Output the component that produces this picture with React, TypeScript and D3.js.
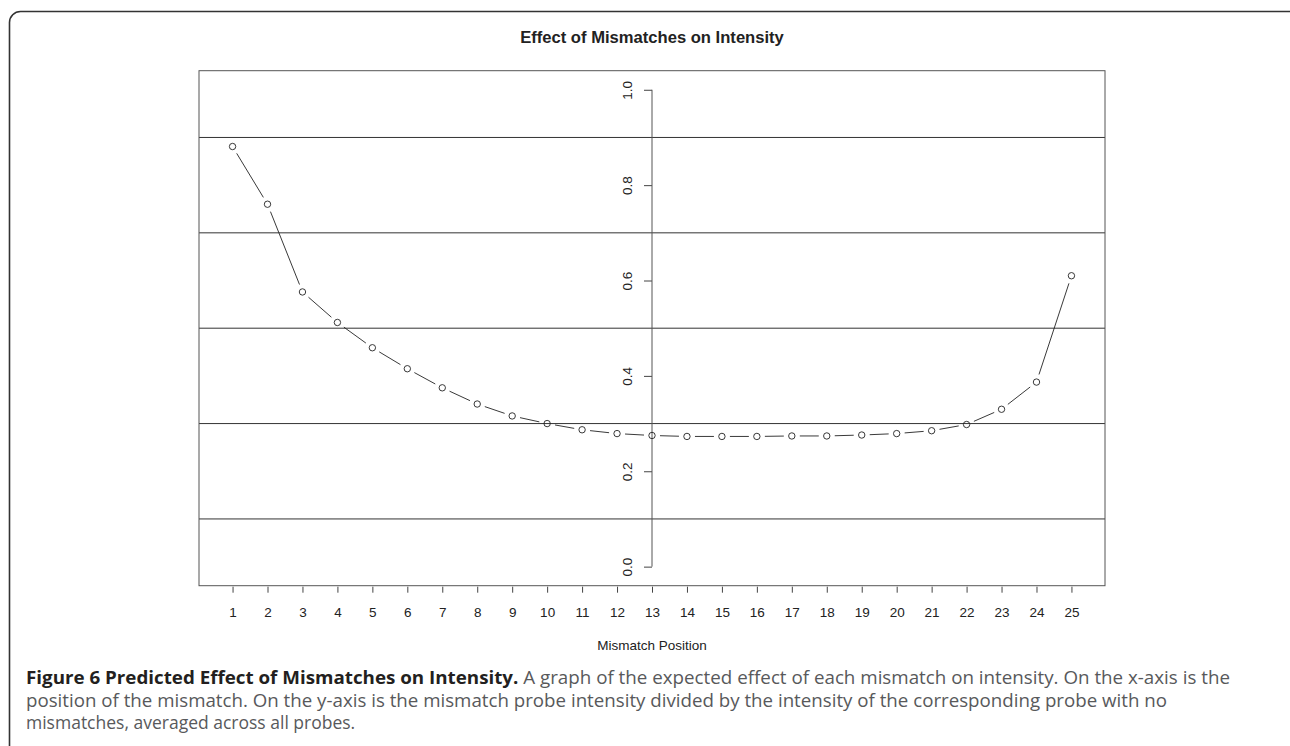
import React, { useEffect, useRef } from "react"
import * as d3 from "d3"

/** Mismatch positions along the probe and mean relative intensity */
const positions = [1, 2, 3, 4, 5, 6, 7, 8, 9, 10, 11, 12, 13, 14, 15, 16, 17, 18, 19, 20, 21, 22, 23, 24, 25]
const intensity = [
	0.881, 0.76, 0.576, 0.512, 0.459, 0.415, 0.375, 0.341, 0.316, 0.3, 0.287, 0.279, 0.275,
	0.273, 0.273, 0.273, 0.274, 0.274, 0.276, 0.279, 0.285, 0.298, 0.33, 0.387, 0.61,
]

/** Axis ticks and reference lines */
const yTickValues = [0, 0.2, 0.4, 0.6, 0.8, 1.0]
const gridValues = [0.1, 0.3, 0.5, 0.7, 0.9]

const title = "Effect of Mismatches on Intensity"
const xLabel = "Mismatch Position"
const captionBold = "Figure 6 Predicted Effect of Mismatches on Intensity."
const captionRest = " A graph of the expected effect of each mismatch on intensity. On the x-axis is the"
const captionLine2 =
	"position of the mismatch. On the y-axis is the mismatch probe intensity divided by the intensity of the corresponding probe with no"
const captionLine3 = "mismatches, averaged across all probes."

export default function App() {
	const width = 1290
	const height = 746

	/** plot region (R style box) */
	const left = 199
	const right = 1105
	const top = 70.7
	const bottom = 585.7
	const yAxisAt = 13

	const xScale = d3.scaleLinear().domain([0.04, 25.96]).range([left, right])
	const yScale = d3.scaleLinear().domain([-0.04, 1.04]).range([bottom, top])

	const axisFont = "'Liberation Sans', Arial, sans-serif"
	const ink = "#222"

	/** points in pixels */
	const pts = positions.map((p, i) => [xScale(p), yScale(intensity[i])])

	/** type="b" segments: gap around each point */
	const gap = 8
	const segments = []
	for (let i = 0; i < pts.length - 1; i++) {
		const [x1, y1] = pts[i]
		const [x2, y2] = pts[i + 1]
		const len = Math.hypot(x2 - x1, y2 - y1)
		if (len <= 2 * gap) continue
		const ux = (x2 - x1) / len
		const uy = (y2 - y1) / len
		segments.push([x1 + ux * gap, y1 + uy * gap, x2 - ux * gap, y2 - uy * gap])
	}

	const xAxisRef = useRef(null)
	useEffect(() => {
		const g = d3.select(xAxisRef.current)
		g.call(d3.axisBottom(xScale).tickValues(positions).tickSize(7).tickPadding(9).tickFormat(d3.format("d")))
		g.select(".domain").remove()
		g.selectAll(".tick line").attr("stroke", "#444").attr("y1", 1)
		g.selectAll(".tick text")
			.attr("fill", ink)
			.attr("font-family", axisFont)
			.attr("font-size", 13.5)
			.attr("dy", 0)
			.attr("y", 31.5)
	}, [])

	const yAxisRef = useRef(null)
	useEffect(() => {
		const g = d3.select(yAxisRef.current)
		g.call(d3.axisLeft(yScale).tickValues(yTickValues).tickSize(8).tickFormat(d3.format(".1f")))
		g.select(".domain").remove()
		g.selectAll(".tick line").attr("stroke", "#444")
		g.selectAll(".tick text")
			.attr("fill", ink)
			.attr("font-family", axisFont)
			.attr("font-size", 13.5)
			.attr("text-anchor", "middle")
			.attr("transform", "rotate(-90)")
			.attr("x", 0)
			.attr("y", -20)
			.attr("dy", 0)
	}, [])

	return (
		<svg width={width} height={height} style={{ position: "absolute", left: 0, top: 0, background: "#fff" }}>
			<rect x={9.5} y={11.5} width={1300} height={800} rx={11} fill="none" stroke="#333" strokeWidth={1.6} />

			<text x={652} y={42.5} textAnchor="middle" fontFamily={axisFont} fontWeight="bold" fontSize={16.6} fill={ink}>
				{title}
			</text>

			{gridValues.map(v => (
				<line key={v} x1={left} x2={right} y1={yScale(v)} y2={yScale(v)} stroke="#333" strokeWidth={1} />
			))}

			<rect x={left} y={top} width={right - left} height={bottom - top} fill="none" stroke="#555" strokeWidth={1} />

			<g ref={xAxisRef} transform={`translate(0, ${bottom})`} />

			<g ref={yAxisRef} transform={`translate(${xScale(yAxisAt)}, 0)`} />
			<line x1={xScale(yAxisAt)} x2={xScale(yAxisAt)} y1={yScale(0)} y2={yScale(1)} stroke="#555" strokeWidth={1} />

			{segments.map((s, i) => (
				<line key={i} x1={s[0]} y1={s[1]} x2={s[2]} y2={s[3]} stroke={ink} strokeWidth={0.9} />
			))}
			{pts.map((p, i) => (
				<circle key={i} cx={p[0]} cy={p[1]} r={3.2} fill="none" stroke={ink} strokeWidth={0.9} />
			))}

			<text x={652} y={650} textAnchor="middle" fontFamily={axisFont} fontSize={13.5} fill={ink}>
				{xLabel}
			</text>

			<g fontFamily="'Open Sans', 'Noto Sans', sans-serif" fontSize={17.5} fill="#58595b">
				<text x={26} y={684} textLength={1204} lengthAdjust="spacingAndGlyphs">
					<tspan fontWeight="bold" fill="#231f20">{captionBold}</tspan>
					<tspan>{captionRest}</tspan>
				</text>
				<text x={26} y={706.5} textLength={1141} lengthAdjust="spacingAndGlyphs">
					{captionLine2}
				</text>
				<text x={26} y={729}>
					{captionLine3}
				</text>
			</g>
		</svg>
	)
}
